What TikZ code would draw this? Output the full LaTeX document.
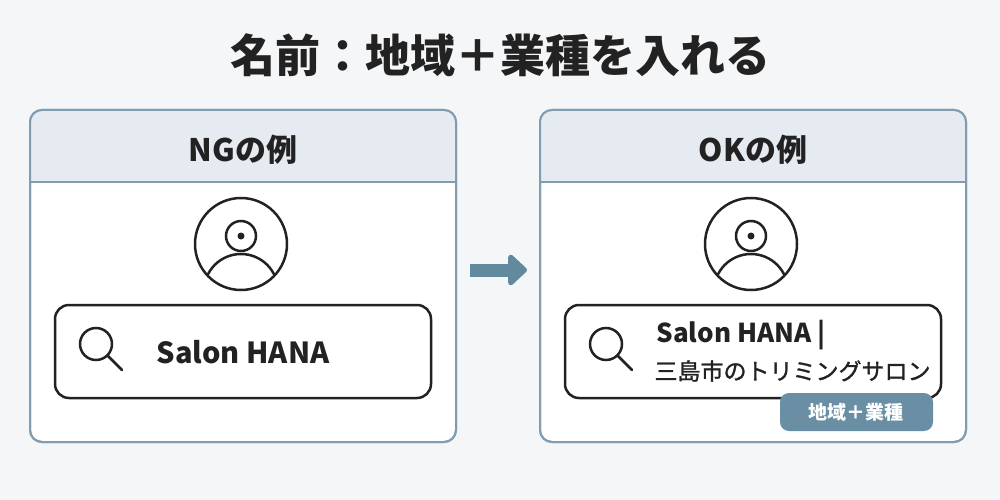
\documentclass[tikz,border=0pt]{standalone}
\usepackage{fontspec}
\setmainfont{Noto Sans CJK JP}
\newfontfamily\medfont[FakeBold=1.2]{Noto Sans CJK JP}
\usetikzlibrary{arrows.meta}
\definecolor{bg}{HTML}{F5F6F7}
\definecolor{frame}{HTML}{819DB1}
\definecolor{head}{HTML}{E5EBF0}
\definecolor{ink}{HTML}{222222}
\definecolor{tag}{HTML}{6A8EA3}
\definecolor{arr}{HTML}{628A9E}
\tikzset{
 panel/.style={draw=frame,line width=2pt,rounded corners=12pt,fill=white},
 sbox/.style={draw=ink,line width=2.5pt,rounded corners=14pt,fill=white},
 icon/.style={draw=ink,line width=2.5pt},
 hdr/.style={font=\fontsize{31}{36}\selectfont\bfseries,text=ink},
 stxt/.style={font=\fontsize{29}{34}\selectfont\bfseries,text=ink},
}
\newcommand{\person}[2]{%
 \draw[icon] (#1,#2) circle (46);
 \draw[icon] (#1,#2-8) circle (15);
 \fill[ink] (#1,#2-8) circle (3.5);
 \begin{scope}
 \clip (#1,#2) circle (46);
 \draw[icon] (#1,#2+47) circle (37);
 \end{scope}}
\newcommand{\glass}[2]{%
 \draw[icon] (#1,#2) circle (16);
 \draw[icon,line cap=round] (#1+11.5,#2+11.5) -- (#1+26,#2+26);}
\newcommand{\panelbox}[3]{%
 \draw[panel] (#1,110) rectangle (#1+426,442);
 \begin{scope}
 \clip[rounded corners=12pt] (#1,110) rectangle (#1+426,442);
 \fill[head] (#1,110) rectangle (#1+426,182);
 \end{scope}
 \draw[frame,line width=1.5pt] (#1,182) -- (#1+426,182);
 \draw[frame,line width=2pt,rounded corners=12pt] (#1,110) rectangle (#1+426,442);
 \node[hdr] (#3) at (#1+213,150) {#2};}
\begin{document}
\begin{tikzpicture}[x=1pt,y=-1pt]
\fill[bg] (0,0) rectangle (1000,500);
\useasboundingbox (0,0) rectangle (1000,500);
\node[font=\fontsize{45}{52}\selectfont\bfseries,text=ink] (title) at (500,55) {名前：地域＋業種を入れる};
\panelbox{30}{NGの例}{ng}
\panelbox{540}{OKの例}{ok}
\person{241}{244}
\person{751}{244}
\draw[sbox] (55,305) rectangle (431,398);
\glass{96}{344}
\node[stxt] (ngtext) at (243,352) {Salon HANA};
\draw[sbox] (565,305) rectangle (941,398);
\glass{606}{344}
\node[stxt,anchor=west,font=\fontsize{26}{30}\selectfont\bfseries] (ok1) at (653,335) {Salon HANA |};
\node[anchor=west,font=\fontsize{23}{27}\selectfont\medfont,text=ink] (ok2) at (651,371) {三島市のトリミングサロン};
\fill[tag,rounded corners=9pt] (780,393) rectangle (933,431);
\node[font=\fontsize{19}{23}\selectfont\bfseries,text=white] (tagt) at (856,412) {地域＋業種};
\coordinate (a1) at (470,270);
\coordinate (a2) at (527,270);
\draw[arr,line width=13pt,-{Triangle[length=20pt,width=36pt,round]}] (a1) -- (a2);
\end{tikzpicture}
\end{document}
